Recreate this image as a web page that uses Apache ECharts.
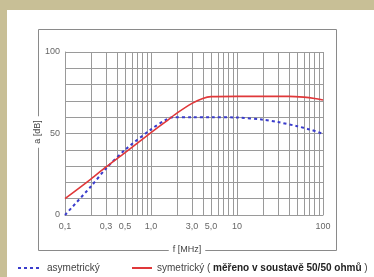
<!DOCTYPE html>
<html>
<head>
<meta charset="utf-8">
<script src="https://cdn.jsdelivr.net/npm/echarts@6/dist/echarts.min.js"></script>
<style>
  html, body { margin: 0; padding: 0; background: #fff; }
  #main { width: 374px; height: 277px; }
</style>
</head>
<body>
<div id="main"></div>
<script>
// frekvence a útlum
var freqAsym = [0.1, 0.2, 0.3, 0.5, 1.0, 1.5, 1.8, 3.0, 5.0, 10, 20, 30, 50, 70, 100];
var valAsym  = [0, 17.5, 28.5, 40, 52.5, 58.5, 60, 60, 60, 59.8, 58.5, 57, 54.5, 52.5, 49.8];

var freqSym = [0.1, 0.2, 0.3, 0.5, 1.0, 1.5, 2.0, 3.0, 4.0, 5.0, 10, 20, 40, 60, 80, 100];
var valSym  = [10, 22, 29.5, 38.3, 50.5, 57.5, 62.5, 68.5, 71.5, 72.6, 72.8, 72.8, 72.8, 72.3, 71.5, 70.5];

// mřížka a popisky osy x
var xGridValues = [0.1, 0.2, 0.3, 0.4, 0.5, 0.6, 0.7, 0.8, 0.9,
                   1, 2, 3, 4, 5, 6, 7, 8, 9,
                   10, 20, 30, 40, 50, 60, 70, 80, 90, 100];
var xTickValues = [0.1, 0.3, 0.5, 1, 3, 5, 10, 100];
var xTickLabels = ['0,1', '0,3', '0,5', '1,0', '3,0', '5,0', '10', '100'];
var yTickValues = [0, 50, 100];

function pairs(xs, ys) {
    return xs.map(function (x, i) { return [x, ys[i]]; });
}

var chart = echarts.init(document.getElementById('main'));

var gridColor = '#9a9a9a';
var fontFam = '"Liberation Sans", Arial, sans-serif';

var option = {
    backgroundColor: '#ffffff',
    animation: false,
    grid: { left: 65, right: 51, top: 52, bottom: 62 },
    xAxis: {
        type: 'log',
        logBase: 10,
        min: 0.1,
        max: 100,
        axisLine: { show: true, lineStyle: { color: gridColor, width: 1 } },
        axisTick: { show: false, customValues: xGridValues },
        splitLine: { show: true, lineStyle: { color: gridColor, width: 1 } },
        minorSplitLine: { show: false },
        axisLabel: {
            customValues: xTickValues,
            margin: 7,
            color: '#666',
            fontSize: 9,
            fontFamily: fontFam,
            formatter: function (v) {
                for (var i = 0; i < xTickValues.length; i++) {
                    if (Math.abs(xTickValues[i] - v) < 1e-6) return xTickLabels[i];
                }
                return '';
            }
        }
    },
    yAxis: {
        type: 'value',
        min: 0,
        max: 100,
        interval: 10,
        axisLine: { show: true, lineStyle: { color: gridColor, width: 1 } },
        axisTick: { show: false },
        splitLine: { show: true, lineStyle: { color: gridColor, width: 1 } },
        axisLabel: {
            customValues: yTickValues,
            margin: 5,
            color: '#666',
            fontSize: 9,
            fontFamily: fontFam
        }
    },
    legend: [{
        data: ['asymetrický'],
        left: 12,
        top: 258,
        itemWidth: 24,
        itemHeight: 10,
        itemStyle: { opacity: 0 },
        textStyle: { color: '#444', fontSize: 10, fontFamily: fontFam }
    }, {
        data: ['symetrický'],
        left: 126,
        top: 258,
        itemWidth: 20,
        itemHeight: 10,
        itemStyle: { opacity: 0 },
        textStyle: {
            color: '#444', fontSize: 10, fontFamily: fontFam,
            rich: { b: { fontWeight: 'bold', color: '#222', fontSize: 10, fontFamily: fontFam } }
        },
        formatter: function (name) {
            return name + ' ( {b|měřeno v soustavě 50/50 ohmů} )';
        }
    }],
    graphic: [
        // khaki okraj
        { type: 'rect', shape: { x: 0, y: 0, width: 374, height: 10 }, style: { fill: '#c8bf96' }, silent: true },
        { type: 'rect', shape: { x: 0, y: 0, width: 7, height: 277 }, style: { fill: '#c8bf96' }, silent: true },
        // rámeček
        { type: 'rect', shape: { x: 38.5, y: 29.5, width: 298, height: 221 },
          style: { fill: 'none', stroke: '#8a8a8a', lineWidth: 1 }, silent: true },
        { type: 'text', x: 187, y: 250, z: 10,
          style: { text: 'f [MHz]', align: 'center', verticalAlign: 'middle', fill: '#444',
                   fontSize: 9, fontFamily: fontFam, backgroundColor: '#fff', padding: [1, 4] } },
        { type: 'text', x: 38, y: 132, rotation: Math.PI / 2, z: 10,
          style: { text: 'a [dB]', align: 'center', verticalAlign: 'middle', fill: '#444',
                   fontSize: 9, fontFamily: fontFam, backgroundColor: '#fff', padding: [1, 4] } }
    ],
    series: [{
        name: 'asymetrický',
        type: 'line',
        data: pairs(freqAsym, valAsym),
        smooth: 0.3,
        symbol: 'none',
        lineStyle: { color: '#3a3ccc', width: 2, type: [3, 3] },
        itemStyle: { color: '#3a3ccc' }
    }, {
        name: 'symetrický',
        type: 'line',
        data: pairs(freqSym, valSym),
        smooth: 0.3,
        symbol: 'none',
        lineStyle: { color: '#e0383a', width: 1.6 },
        itemStyle: { color: '#e0383a' }
    }]
};

chart.setOption(option);
</script>
</body>
</html>
